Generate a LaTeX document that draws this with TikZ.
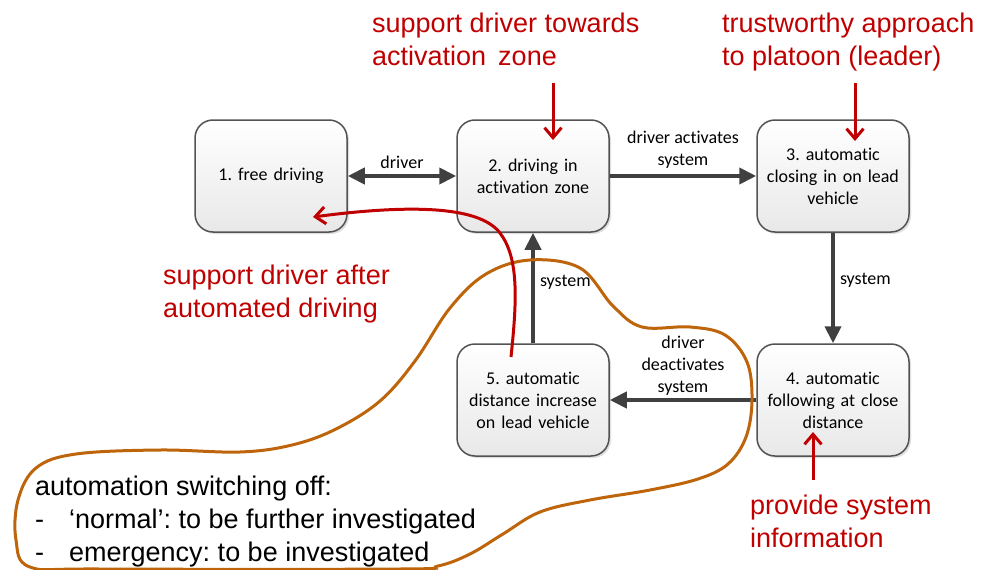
\documentclass[tikz,border=0pt]{standalone}
\usepackage{fontspec}
\setmainfont{Carlito}[Ligatures={NoCommon,NoRequired}]
\newfontfamily\arialfont{Liberation Sans}
\usetikzlibrary{arrows.meta, shadows}
\frenchspacing

\definecolor{flowgray}{RGB}{64,64,64}
\definecolor{annotred}{RGB}{192,0,0}
\definecolor{offbrown}{RGB}{190,100,10}

\tikzset{
	stepbox/.style={draw=flowgray!90, line width=1.5pt, rounded corners=18pt,
		top color=white, bottom color=gray!18,
		drop shadow={shadow xshift=2pt, shadow yshift=-2pt, opacity=0.25},
		minimum width=152pt, minimum height=112pt, text width=140pt,
		align=center, font=\fontsize{18}{22}\selectfont},
	flow/.style={flowgray, line width=4pt,
		-{Triangle[length=17pt, width=16pt]}},
	flowlabel/.style={font=\fontsize{18}{22}\selectfont, align=center,
		text=black, inner sep=2pt},
	remark/.style={annotred, anchor=north west, align=left, inner sep=0pt,
		font=\arialfont\fontsize{27}{33}\selectfont},
	hint/.style={annotred, line width=3pt,
		-{Straight Barb[length=10pt, width=17pt]}}
}

\begin{document}
\begin{tikzpicture}[x=1pt, y=-1pt]
\useasboundingbox (0,0) rectangle (991,570);

% states
\node [stepbox] (free) at (271,176) {1. free driving};
\node [stepbox] (zone) at (533,176) {2. driving in\\activation zone};
\node [stepbox] (closing) at (833,176) {3. automatic\\closing in on lead\\vehicle};
\node [stepbox] (follow) at (833,400) {4. automatic\\following at close\\distance};
\node [stepbox] (increase) at (533,400) {5. automatic\\distance increase\\on lead vehicle};

% transitions
\draw [flow, {Triangle[length=17pt, width=16pt]}-{Triangle[length=17pt, width=16pt]}] (free) -- (zone)
	node [pos=0.5, above=3pt, flowlabel] {driver};
\draw [flow] (zone) -- (closing)
	node [pos=0.5, above=4pt, flowlabel] {driver activates\\system};
\draw [flow] (closing) -- (follow)
	node [pos=0.43, right=3pt, flowlabel] {system};
\draw [flow] (follow) -- (increase)
	node [pos=0.5, above=1pt, flowlabel] {driver\\deactivates\\system};
\draw [flow] (increase) -- (zone)
	node [pos=0.55, right=3pt, flowlabel] {system};

% switching off area
\draw [offbrown, line width=3pt] plot [smooth cycle, tension=0.6] coordinates {
	(530,260) (580,268) (613,306) (642,327) (690,327) (725,335) (747,362)
	(752,400) (746,437) (728,464) (698,479) (650,490) (590,500) (540,512)
	(503,534) (470,554) (438,566) (400,569) (100,569) (30,567) (16,540)
	(18,500) (36,468) (76,454) (160,450) (240,452) (292,445) (336,429)
	(380,401) (415,361) (450,308) (486,274)};
\node [remark, text=black, font=\arialfont\fontsize{27}{33}\selectfont] (offtext) at (35,476)
	{automation switching off:\\
	\makebox[34pt][l]{-}‘normal’: to be further investigated\\
	\makebox[34pt][l]{-}emergency: to be investigated};

% support notes
\node [remark] (towards) at (372,13) {support driver towards\\activation\, zone};
\node [remark] (approach) at (722,13) {trustworthy approach\\to platoon (leader)};
\node [remark] (after) at (163,265) {support driver after\\automated driving};
\node [remark] (inform) at (750,495) {provide system\\information};

\coordinate (towardsA) at (553,83);
\coordinate (towardsB) at (553,140);
\coordinate (approachA) at (855,83);
\coordinate (approachB) at (855,141);
\coordinate (informA) at (813,480);
\coordinate (informB) at (813,432);
\coordinate (afterA) at (511,357);
\coordinate (afterB) at (313,217);

\draw [hint] (towardsA) -- (towardsB);
\draw [hint] (approachA) -- (approachB);
\draw [hint] (informA) -- (informB);
\draw [hint] (afterA) .. controls (517,300) and (519,258) .. (500,233)
	.. controls (481,208) and (420,203) .. (afterB);
\end{tikzpicture}
\end{document}
